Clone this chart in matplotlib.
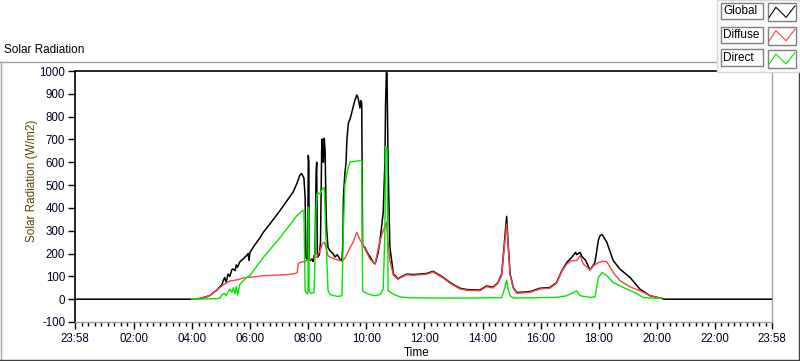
import matplotlib
matplotlib.use('Agg')
import matplotlib.pyplot as plt
from matplotlib.lines import Line2D
from matplotlib.patches import Rectangle

plt.rcParams['font.family'] = ['Liberation Sans', 'DejaVu Sans']

# ---------------- data (time in hours, value in W/m2) ----------------
global_t = [-0.033, 3.99, 4.27, 4.50, 4.62, 4.85, 4.96, 5.02, 5.07, 5.12, 5.17, 5.24, 5.30, 5.37,
            5.42, 5.48, 5.52, 5.56, 5.65, 5.75, 5.82, 5.88, 5.93, 5.96, 5.99, 6.17, 6.34, 6.45,
            6.68, 7.03, 7.26, 7.48, 7.60, 7.71, 7.77, 7.81, 7.85, 7.89, 7.92, 7.96, 7.98, 8.00,
            8.02, 8.03, 8.06, 8.13, 8.16, 8.20, 8.23, 8.27, 8.29, 8.31, 8.33, 8.38, 8.42, 8.46,
            8.48, 8.50, 8.52, 8.55, 8.58, 8.61, 8.63, 8.68, 8.75, 8.85, 8.92, 9.00, 9.09, 9.16,
            9.19, 9.21, 9.26, 9.30, 9.33, 9.38, 9.44, 9.54, 9.60, 9.67, 9.72, 9.78, 9.81, 9.84,
            9.87, 9.95, 10.05, 10.13, 10.25, 10.30, 10.40, 10.47, 10.58, 10.64, 10.66, 10.69,
            10.71, 10.75, 10.81, 10.93, 11.09, 11.16, 11.39, 11.61, 11.85, 12.05, 12.30, 12.65,
            12.88, 13.22, 13.47, 13.91, 14.14, 14.36, 14.53, 14.66, 14.74, 14.83, 14.89, 14.95,
            15.06, 15.18, 15.63, 15.98, 16.32, 16.55, 16.73, 16.90, 17.07, 17.20, 17.24, 17.36,
            17.42, 17.55, 17.70, 17.82, 17.87, 17.99, 18.05, 18.12, 18.28, 18.50, 18.73, 19.08,
            19.42, 19.77, 20.17, 20.28, 23.967]
global_v = [0, 0, 3, 11, 17, 40, 55, 62, 80, 95, 75, 110, 100, 130,
            132, 125, 150, 140, 165, 175, 185, 191, 200, 169, 205, 240, 270, 293,
            330, 389, 430, 470, 505, 543, 551, 540, 530, 450, 183, 175, 180, 630,
            600, 180, 170, 175, 165, 190, 200, 560, 600, 200, 185, 195, 250, 650,
            702, 620, 600, 705, 650, 400, 310, 226, 212, 200, 185, 195, 175, 169,
            250, 450, 551, 600, 700, 772, 790, 840, 870, 895, 880, 838, 870, 860,
            235, 226, 200, 185, 160, 155, 200, 257, 381, 609, 850, 994,
            990, 580, 227, 111, 89, 95, 110, 108, 110, 112, 122, 95,
            73, 48, 42, 40, 58, 52, 73, 110, 227, 363, 227, 110,
            51, 29, 33, 48, 51, 73, 125, 161, 183, 205, 195, 205,
            187, 170, 128, 150, 161, 260, 279, 283, 249, 169, 132, 95,
            44, 15, 3, 0, 0]

diffuse_t = [3.99, 4.27, 4.50, 4.62, 4.85, 4.96, 5.07, 5.17, 5.30, 5.42, 5.56, 5.75, 5.88, 6.17,
             6.45, 6.80, 7.03, 7.30, 7.55, 7.62, 7.65, 7.71, 7.85, 8.00, 8.06, 8.16, 8.29, 8.40,
             8.48, 8.55, 8.60, 8.68, 8.75, 8.92, 9.09, 9.16, 9.26, 9.38, 9.54, 9.67, 9.78, 9.87,
             9.95, 10.13, 10.30, 10.47, 10.58, 10.69, 10.75, 10.81, 10.93, 11.09, 11.16, 11.39,
             11.61, 11.85, 12.05, 12.30, 12.65, 12.88, 13.22, 13.47, 13.91, 14.14, 14.36, 14.53,
             14.66, 14.74, 14.83, 14.89, 14.95, 15.06, 15.18, 15.63, 15.98, 16.32, 16.55, 16.73,
             16.90, 17.07, 17.24, 17.36, 17.47, 17.70, 17.82, 17.99, 18.12, 18.28, 18.50, 18.73,
             19.08, 19.42, 19.77, 20.17]
diffuse_v = [0, 3, 11, 17, 40, 52, 62, 70, 80, 82, 85, 92, 95, 98,
             103, 105, 106, 108, 112, 118, 155, 161, 165, 170, 175, 180, 185, 210,
             243, 250, 230, 190, 185, 175, 170, 165, 180, 210, 250, 293, 260, 243,
             220, 175, 155, 257, 300, 337, 250, 169, 105, 87, 93, 107,
             105, 107, 109, 119, 92, 70, 45, 39, 37, 55, 49, 70,
             105, 215, 330, 215, 105, 48, 26, 30, 45, 48, 70, 122,
             154, 169, 169, 191, 154, 128, 147, 160, 166, 164, 117, 81,
             54, 37, 15, 3]

direct_t = [3.99, 4.85, 4.96, 5.02, 5.12, 5.17, 5.30, 5.37, 5.42, 5.48, 5.52, 5.56, 5.65, 5.75,
            5.88, 5.99, 6.17, 6.45, 7.03, 7.60, 7.81, 7.85, 7.89, 7.96, 7.99, 8.00, 8.02, 8.03,
            8.10, 8.20, 8.27, 8.29, 8.33, 8.40, 8.48, 8.55, 8.60, 8.63, 8.68, 8.75, 9.00, 9.16,
            9.21, 9.26, 9.33, 9.38, 9.44, 9.67, 9.84, 9.87, 9.95, 10.13, 10.30, 10.47, 10.58,
            10.64, 10.66, 10.71, 10.75, 10.93, 11.16, 11.50, 12.50, 13.50, 14.66, 14.77, 14.83,
            14.89, 14.95, 15.06, 16.55, 16.90, 17.24, 17.36, 17.70, 17.87, 17.99, 18.12, 18.28,
            18.50, 18.85, 19.31, 19.54, 20.17]
direct_v = [0, 2, 5, 18, 25, 15, 44, 30, 50, 25, 55, 18, 66, 80,
            95, 103, 135, 183, 270, 365, 389, 385, 37, 22, 30, 404, 380, 37,
            25, 30, 400, 455, 470, 460, 480, 490, 300, 200, 37, 20, 12, 15,
            315, 500, 551, 580, 602, 605, 609, 37, 30, 20, 15, 20, 43,
            300, 668, 660, 37, 22, 10, 6, 5, 5, 7, 51, 84,
            40, 15, 5, 8, 15, 37, 15, 8, 10, 95, 117, 103,
            73, 51, 25, 7, 3]

major_ticks = [-0.033, 2, 4, 6, 8, 10, 12, 14, 16, 18, 20, 22, 23.967]
major_labels = ['23:58', '02:00', '04:00', '06:00', '08:00', '10:00', '12:00',
                '14:00', '16:00', '18:00', '20:00', '22:00', '23:58']
y_ticks = [-100, 0, 100, 200, 300, 400, 500, 600, 700, 800, 900, 1000]

series_names = ['Global', 'Diffuse', 'Direct']
series_colors = ['#000000', '#ff4040', '#00e600']

# ---------------- figure ----------------
W, H = 800, 361
fig = plt.figure(figsize=(8, 3.61), dpi=100)
fig.patch.set_facecolor('white')


def fx(x):
    return x / W


def fy(y):
    return 1 - y / H


ax = fig.add_axes([fx(75), fy(322), fx(772) - fx(75), fy(71) - fy(322)])
ax.plot(global_t, global_v, color=series_colors[0], lw=1.1, zorder=3)
ax.plot(diffuse_t, diffuse_v, color=series_colors[1], lw=1.0, zorder=4)
ax.plot(direct_t, direct_v, color=series_colors[2], lw=1.0, zorder=5)

ax.set_xlim(-0.033, 23.967)
ax.set_ylim(-100, 1000)
ax.set_xticks(major_ticks)
ax.set_xticklabels(major_labels)
minor = []
for a, b in zip(major_ticks[:-1], major_ticks[1:]):
    for k in range(1, 9):
        minor.append(a + (b - a) * k / 9)
ax.set_xticks(minor, minor=True)
ax.set_yticks(y_ticks)
ax.set_yticklabels([str(v) for v in y_ticks])

ax.tick_params(axis='x', which='major', direction='out', length=5, width=1,
               color='black', labelsize=8.3, pad=3, labelcolor='#000020')
ax.tick_params(axis='x', which='minor', direction='out', length=3, width=1, color='black')
ax.tick_params(axis='y', which='major', direction='out', length=5, width=1,
               color='black', labelsize=8.3, pad=2, labelcolor='#000020')

for side in ['left', 'top']:
    ax.spines[side].set_color('black')
    ax.spines[side].set_linewidth(1.2)
for side in ['right', 'bottom']:
    ax.spines[side].set_color('#a0a0a0')
    ax.spines[side].set_linewidth(1.0)

# texts
fig.text(fx(4), fy(50), 'Solar Radiation', ha='left', va='center', fontsize=8.5)
fig.text(fx(32), fy(181), 'Solar Radiation (W/m2)', rotation=90, ha='center',
         va='center', fontsize=8.5, color='#5a4400')
fig.text(fx(404), fy(353.5), 'Time', ha='left', va='center', fontsize=8.5)

# frame lines
fig.add_artist(Line2D([fx(0), fx(717)], [fy(62), fy(62)], color='#a0a0a0', lw=1))
fig.add_artist(Line2D([fx(0.5), fx(0.5)], [fy(62), fy(360)], color='#a0a0a0', lw=1))
fig.add_artist(Line2D([fx(0), fx(800)], [fy(360), fy(360)], color='#404040', lw=1))
fig.add_artist(Line2D([fx(799), fx(799)], [fy(72), fy(360)], color='#404040', lw=1))

# legend panel
fig.add_artist(Rectangle((fx(717), fy(72)), fx(800) - fx(717), fy(0) - fy(72),
                         facecolor='#fbfbfb', edgecolor='#d8d8d8', lw=1, zorder=10))
rows = [(3.3, 19.3, 3.3, 21.3), (26.7, 43.3, 26.7, 44.7), (49.3, 66.0, 50.0, 68.0)]
zx = [0.05, 0.29, 0.65, 0.96]
zy = [0.78, 0.22, 0.78, 0.15]
for name, col, (ly0, ly1, sy0, sy1) in zip(series_names, series_colors, rows):
    fig.add_artist(Rectangle((fx(721), fy(ly1)), fx(762.7) - fx(721), fy(ly0) - fy(ly1),
                             facecolor='white', edgecolor='#808080', lw=1, zorder=11))
    fig.text(fx(723.5), fy((ly0 + ly1) / 2), name, ha='left', va='center',
             fontsize=8.5, zorder=12)
    fig.add_artist(Rectangle((fx(767.7), fy(sy1)), fx(796) - fx(767.7), fy(sy0) - fy(sy1),
                             facecolor='white', edgecolor='#808080', lw=1, zorder=11))
    px = [fx(767.7 + (796 - 767.7) * a) for a in zx]
    py = [fy(sy0 + (sy1 - sy0) * b) for b in zy]
    fig.add_artist(Line2D(px, py, color=col, lw=0.8, zorder=12))

fig.savefig('out.png', dpi=100)
